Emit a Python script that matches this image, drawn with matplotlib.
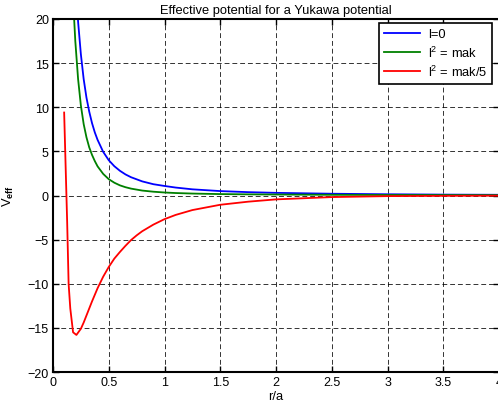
#!/usr/bin/env python3
"""Effective potential for a Yukawa potential (three angular momenta)."""
import matplotlib

matplotlib.use("Agg")
import matplotlib.pyplot as plt

# values
r_blue = [0.15, 0.175, 0.2, 0.225, 0.25, 0.275, 0.3, 0.325, 0.35, 0.375, 0.4,
          0.45, 0.5, 0.55, 0.6, 0.65, 0.7, 0.8, 0.9, 1.0, 1.1, 1.25, 1.5,
          1.75, 2.0, 2.5, 3.0, 3.5, 4.0]
v_blue = [44.5, 32.7, 25.0, 19.7, 16.0, 13.2, 11.1, 9.5, 8.2, 7.15, 6.3,
          4.95, 4.0, 3.32, 2.8, 2.39, 2.07, 1.6, 1.28, 1.08, 0.9, 0.7, 0.5,
          0.38, 0.3, 0.2, 0.14, 0.1, 0.08]

r_green = [0.15, 0.175, 0.2, 0.225, 0.25, 0.275, 0.3, 0.325, 0.35, 0.375,
           0.4, 0.45, 0.5, 0.55, 0.6, 0.65, 0.7, 0.8, 0.9, 1.0, 1.1, 1.25,
           1.5, 1.75, 2.0, 2.5, 3.0, 3.5, 4.0]
v_green = [33.0, 23.5, 17.5, 13.2, 10.2, 8.1, 6.6, 5.45, 4.6, 3.9, 3.3,
           2.45, 1.85, 1.45, 1.15, 0.94, 0.78, 0.56, 0.43, 0.34, 0.28, 0.22,
           0.16, 0.13, 0.11, 0.08, 0.06, 0.05, 0.04]

r_red = [0.1, 0.127, 0.14, 0.155, 0.18, 0.21, 0.25, 0.275, 0.3, 0.35, 0.4,
         0.45, 0.5, 0.55, 0.6, 0.65, 0.7, 0.75, 0.8, 0.9, 1.0, 1.1, 1.25,
         1.5, 1.75, 2.0, 2.5, 3.0, 3.5, 4.0]
v_red = [9.4, -3.0, -10.0, -12.8, -15.5, -15.8, -15.1, -14.4, -13.6, -12.0,
         -10.5, -9.2, -8.1, -7.15, -6.4, -5.7, -5.05, -4.52, -4.05, -3.3,
         -2.68, -2.2, -1.65, -1.05, -0.7, -0.44, -0.18, -0.07, -0.04, -0.02]

labels = ["l=0", "l$^2$ = mak", "l$^2$ = mak/5"]

plt.rcParams["font.family"] = ["Liberation Sans", "DejaVu Sans"]
plt.rcParams["mathtext.fontset"] = "custom"
plt.rcParams["mathtext.rm"] = "Liberation Sans"
plt.rcParams["mathtext.it"] = "Liberation Sans"
plt.rcParams["mathtext.bf"] = "Liberation Sans:bold"

fig = plt.figure(figsize=(4.98, 4.06), dpi=100)
ax = fig.add_axes([53 / 498, 1 - 373 / 406, 446 / 498, 353 / 406])

ax.plot(r_blue, v_blue, color="#0000ff", lw=1.3, label=labels[0])
ax.plot(r_green, v_green, color="#008000", lw=1.3, label=labels[1])
ax.plot(r_red, v_red, color="#ff0000", lw=1.3, label=labels[2])

ax.set_xlim(0, 4)
ax.set_ylim(-20, 20)
ax.set_xticks([0, 0.5, 1, 1.5, 2, 2.5, 3, 3.5, 4])
ax.set_xticklabels(["0", "0.5", "1", "1.5", "2", "2.5", "3", "3.5", "4"])
ax.set_yticks(range(-20, 21, 5))

ax.grid(True, color="black", linestyle=(0, (5, 3)), linewidth=0.7, alpha=0.8)
ax.tick_params(direction="in", top=True, right=True, labelsize=9,
               length=4, width=1, pad=3)
for s in ax.spines.values():
    s.set_linewidth(1.5)

ax.set_title("Effective potential for a Yukawa potential", fontsize=9.3, pad=4)
ax.set_xlabel("r/a", fontsize=9.3, labelpad=1)
ax.set_ylabel("V$_{\\mathbf{eff}}$", fontsize=9.3, labelpad=8)

leg = ax.legend(loc="upper right", bbox_to_anchor=(0.985, 0.988),
                borderaxespad=0, fontsize=9.3, fancybox=False,
                edgecolor="black", framealpha=1, handlelength=2.8,
                labelspacing=0.3, borderpad=0.4, handletextpad=0.6)
leg.get_frame().set_linewidth(1.2)

fig.savefig("out.png", dpi=100)
